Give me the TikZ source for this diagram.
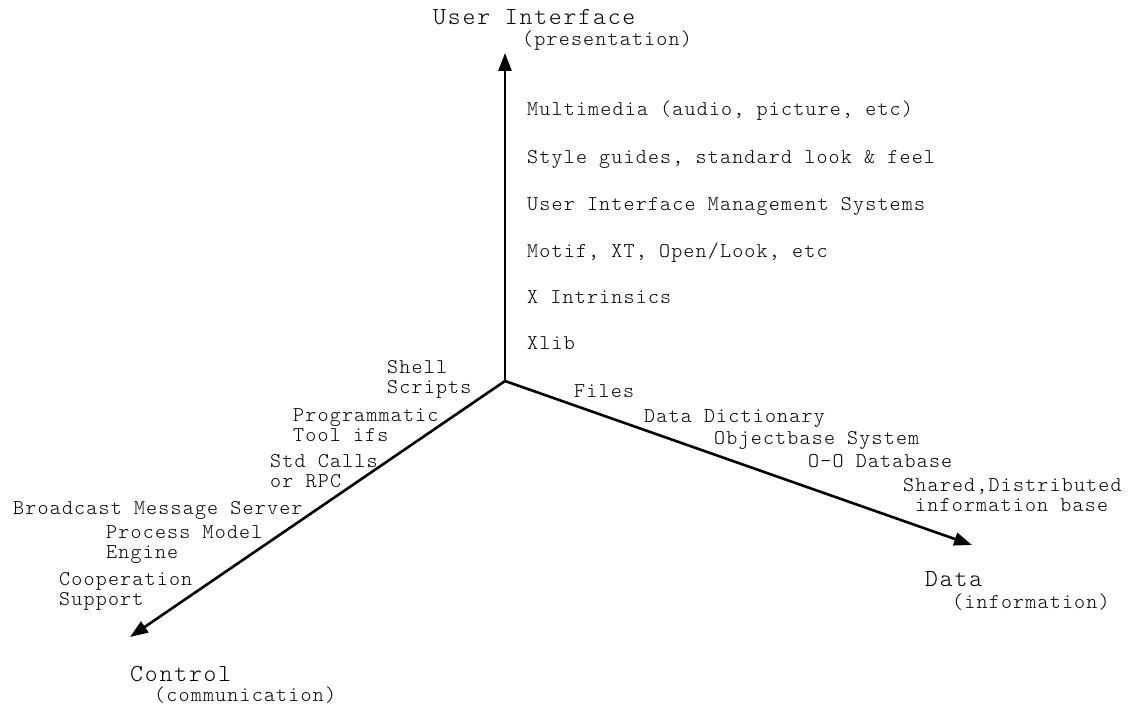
\documentclass[tikz,border=0pt]{standalone}
\usepackage{fontspec}
\usetikzlibrary{arrows.meta}

% widely spaced light typewriter text
\newfontfamily\lblmono{lmmonolt10-regular.otf}[LetterSpace=5.6]
\newfontfamily\ttlmono{lmmonolt10-regular.otf}[LetterSpace=7.5]
\newcommand{\lblfont}{\lblmono\fontsize{21}{20.5}\selectfont}
\newcommand{\ttlfont}{\ttlmono\fontsize{24.5}{26}\selectfont}
% two-line label whose baseline is the first line
\newcommand{\twoline}[2]{\begin{tabular}[t]{@{}l@{}}#1\\#2\end{tabular}}

\tikzset{
  axis/.style={line width=2.6pt, -{Triangle[length=18pt,width=13pt]}},
  lbl/.style={anchor=base west, inner sep=0pt, font=\lblfont},
  ttl/.style={anchor=base west, inner sep=0pt, font=\ttlfont},
}

\begin{document}
\begin{tikzpicture}[x=1pt,y=-1pt]
  \useasboundingbox (0,0) rectangle (1132,706);

  % axes meeting at the origin
  \coordinate (o) at (505,381);
  \coordinate (uitip) at (505,53);
  \coordinate (datatip) at (972,545);
  \coordinate (ctrltip) at (130,637);
  \draw[axis, line join=round] (o) -- (uitip);
  \draw[axis] (o) -- (datatip);
  \draw[axis] (o) -- (ctrltip);

  % axis titles
  \node[ttl] (ui) at (433,25) {User Interface};
  \node[lbl] (uisub) at (522,45.5) {(presentation)};
  \node[ttl] (data) at (925,586) {Data};
  \node[lbl] (datasub) at (952,608) {(information)};
  \node[ttl] (ctrl) at (130,681) {Control};
  \node[lbl] (ctrlsub) at (154,701.5) {(communication)};

  % user interface levels
  \node[lbl] (mm)    at (527,116) {Multimedia (audio, picture, etc)};
  \node[lbl] (style) at (527,163) {Style guides, standard look \& feel};
  \node[lbl] (uims)  at (527,210) {User Interface Management Systems};
  \node[lbl] (motif) at (527,257) {Motif, XT, Open/Look, etc};
  \node[lbl] (xt)    at (527,303) {X Intrinsics};
  \node[lbl] (xlib)  at (527,349) {Xlib};

  % data levels
  \node[lbl] (files)  at (574,397) {Files};
  \node[lbl] (dd)     at (644,422) {Data Dictionary};
  \node[lbl] (obs)    at (714,444) {Objectbase System};
  \node[lbl] (oodb)   at (808,467) {O-O Database};
  \node[lbl] (shared) at (903,491) {Shared,Distributed};
  \node[lbl] (ibase)  at (915,511) {information base};

  % control levels
  \node[lbl] (shell) at (387,373) {\twoline{Shell}{Scripts}};
  \node[lbl] (prog)  at (293,421) {\twoline{Programmatic}{Tool ifs}};
  \node[lbl] (std)   at (270,467) {\twoline{Std Calls}{or RPC}};
  \node[lbl] (bms)   at (13,514)  {Broadcast Message Server};
  \node[lbl] (pme)   at (106,538) {\twoline{Process Model}{Engine}};
  \node[lbl] (coop)  at (59,585)  {\twoline{Cooperation}{Support}};
\end{tikzpicture}
\end{document}
